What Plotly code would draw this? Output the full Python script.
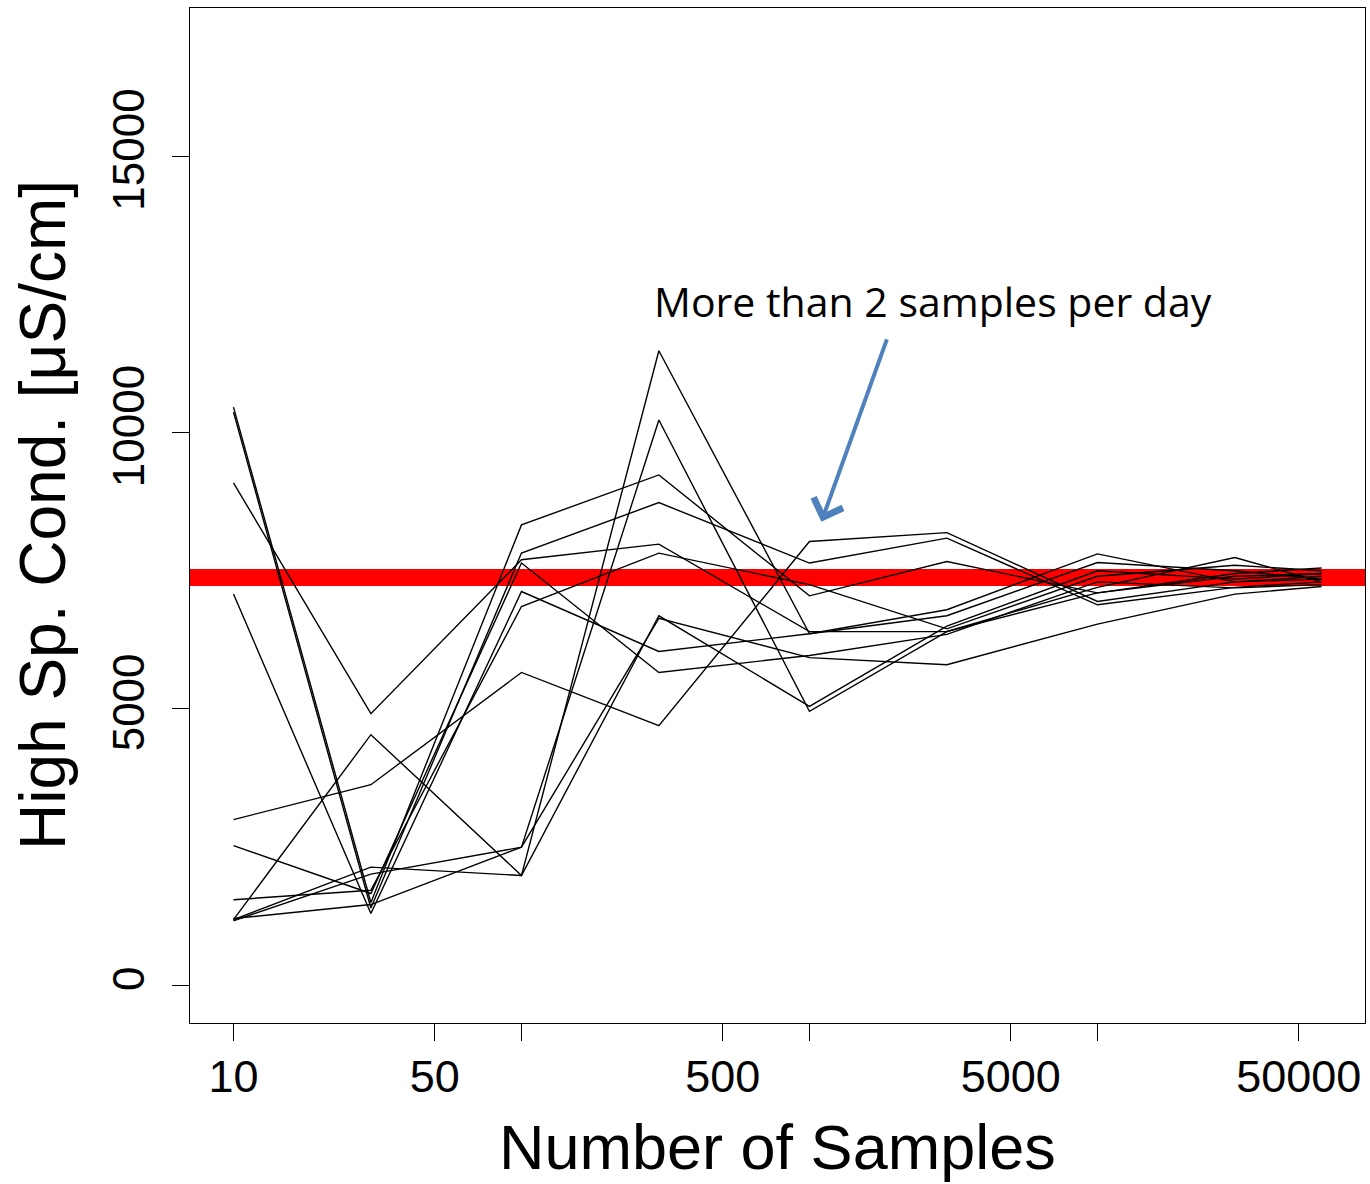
import numpy as np
import plotly.graph_objects as go

# Sample counts at which each run was evaluated
samples = [10, 30, 100, 300, 1000, 3000, 10000, 30000, 60000]

# High specific conductance estimate for each resampling run (uS/cm)
run_01 = [10460, 1500, 8330, 9234, 7047, 7667, 7100, 7400, 7450]
run_02 = [10370, 1400, 7820, 8733, 7640, 8090, 6885, 7200, 7300]
run_03 = [9090, 4915, 7700, 7982, 6400, 6402, 7200, 7740, 7300]
run_04 = [7080, 1300, 7125, 6041, 6360, 6686, 7650, 7500, 7350]
run_05 = [3000, 3630, 5661, 4698, 8030, 8190, 6945, 7300, 7350]
run_06 = [2530, 1662, 7640, 5661, 5968, 6350, 7300, 7190, 7250]
run_07 = [1550, 1720, 6854, 7819, 7250, 6450, 7400, 7600, 7500]
run_08 = [1190, 4535, 1988, 6686, 5047, 6500, 7500, 7350, 7450]
run_09 = [1190, 2140, 1988, 11480, 6360, 6795, 7806, 7300, 7400]
run_10 = [1170, 2013, 2500, 10228, 4957, 6400, 7100, 7450, 7550]
run_11 = [1210, 1463, 2500, 6640, 5930, 5800, 6536, 7078, 7215]

runs = [run_01, run_02, run_03, run_04, run_05, run_06,
        run_07, run_08, run_09, run_10, run_11]

# Value from the full record
full_record_level = 7380

x_tick_values = [10, 50, 100, 500, 1000, 5000, 10000, 50000]
x_tick_text = ["10", "50", "", "500", "", "5000", "", "50000"]
y_tick_values = [0, 5000, 10000, 15000]
y_tick_text = ["0", "5000", "10000", "15000"]

note_text = "More than 2 samples per day"
note_sample, note_value = 2685, 12380
arrow_sample, arrow_value = 1100, 8385

font_main = "Liberation Sans, Arial, Helvetica, sans-serif"

fig = go.Figure()

# Full-record level as a thick red rule across the whole plotting area
fig.add_shape(type="line", xref="x domain", yref="y", x0=0, x1=1,
              y0=full_record_level, y1=full_record_level,
              line=dict(color="#FF0000", width=17), layer="below")

for run in runs:
    fig.add_trace(go.Scatter(x=samples, y=run, mode="lines",
                             line=dict(color="black", width=1.4),
                             showlegend=False, hoverinfo="skip"))

axis_common = dict(showgrid=False, zeroline=False, showline=True, mirror=True,
                   linecolor="black", linewidth=1.3, ticks="outside",
                   tickcolor="black", tickwidth=1.3, ticklen=17,
                   color="black")

fig.update_layout(
    width=1370, height=1184,
    margin=dict(l=190, r=5, t=8, b=161),
    paper_bgcolor="white", plot_bgcolor="rgba(0,0,0,0)",
    xaxis=dict(type="log", range=[0.849, 4.929],
               tickvals=x_tick_values, ticktext=x_tick_text,
               ticklabelstandoff=-3,
               tickfont=dict(family=font_main, size=45, color="black"),
               **axis_common),
    yaxis=dict(range=[-680, 17680], tickvals=y_tick_values, ticktext=y_tick_text,
               tickangle=-90, ticklabelstandoff=10,
               tickfont=dict(family=font_main, size=44, color="black"),
               **axis_common),
    annotations=[
        dict(text="Number of Samples", xref="paper", yref="paper",
             x=0.4996, y=-0.1222, xanchor="center", yanchor="middle",
             showarrow=False, font=dict(family=font_main, size=63, color="black")),
        dict(text="High Sp. Cond. [\u03bcS/cm]", xref="paper", yref="paper",
             x=-0.1251, y=0.5005, xanchor="center", yanchor="middle",
             textangle=-90, showarrow=False,
             font=dict(family=font_main, size=64, color="black")),
        dict(text=note_text, xref="x", yref="y",
             x=np.log10(note_sample), y=note_value,
             xanchor="center", yanchor="middle", showarrow=False,
             font=dict(family="Open Sans, sans-serif", size=41, color="black")),
        dict(text="", xref="x", yref="y",
             x=np.log10(arrow_sample), y=arrow_value,
             ax=66, ay=-184, showarrow=True, arrowhead=4, arrowsize=1.5,
             arrowwidth=4, arrowcolor="#4F81BD", standoff=0),
    ],
)

fig.write_html("out.html")
